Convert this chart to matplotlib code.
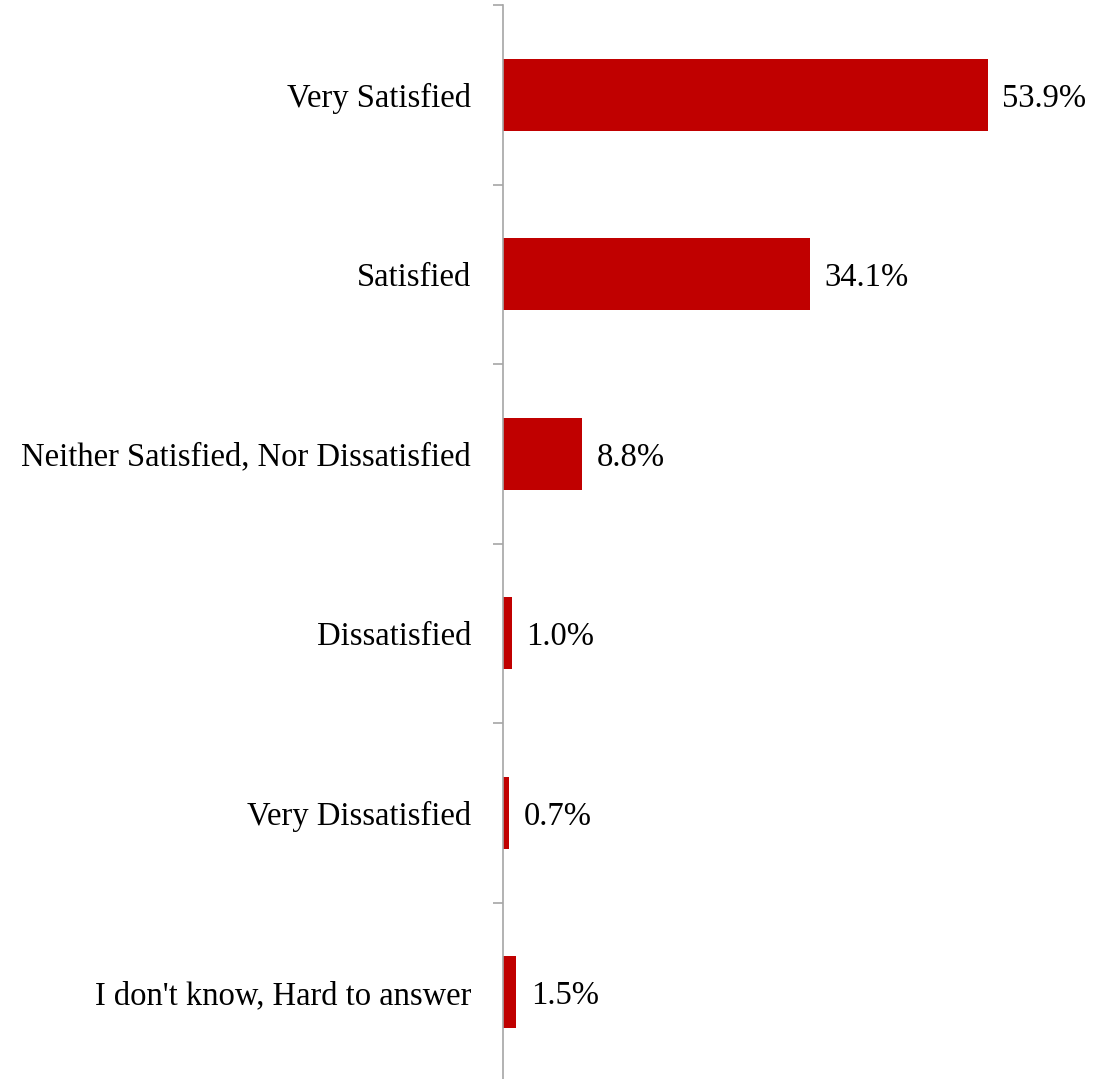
import matplotlib
matplotlib.use('Agg')
import matplotlib.pyplot as plt
import numpy as np

categories = ['Very Satisfied', 'Satisfied', 'Neither Satisfied, Nor Dissatisfied',
              'Dissatisfied', 'Very Dissatisfied', "I don't know, Hard to answer"]
values = [53.9, 34.1, 8.8, 1.0, 0.7, 1.5]

plt.rcParams['font.family'] = ['Liberation Serif', 'DejaVu Serif']

fig = plt.figure(figsize=(10.94, 10.79), dpi=100)
# axes runs a couple of pixels past the bottom edge so the last tick is cut off
ax = fig.add_axes([503/1094, -3/1079, 591/1094, 1 - 2/1079])

y = np.arange(len(categories))
ax.barh(y, values, height=0.4, color='#C00000')
for yi, v in zip(y, values):
    ax.text(v + 1.6, yi + 0.02, '%.1f%%' % v, va='center', ha='left', fontsize=23.5,
            color='black', fontweight='medium')

ax.set_ylim(len(categories) - 0.5, -0.5)
ax.set_xlim(0, 65.7)
ax.set_yticks(np.arange(len(categories) + 1) - 0.5)
ax.set_yticklabels([])
ax.set_yticks(y, minor=True)
ax.set_yticklabels(categories, minor=True, fontsize=23.5)
ax.tick_params(axis='y', which='major', length=7.2, width=1.2, color='#A6A6A6')
ax.tick_params(axis='y', which='minor', length=0, pad=23)
ax.set_xticks([])
for s in ['top', 'right', 'bottom']:
    ax.spines[s].set_visible(False)
ax.spines['left'].set_color('#A6A6A6')
ax.spines['left'].set_linewidth(1.2)

fig.savefig('out.png', dpi=100)
